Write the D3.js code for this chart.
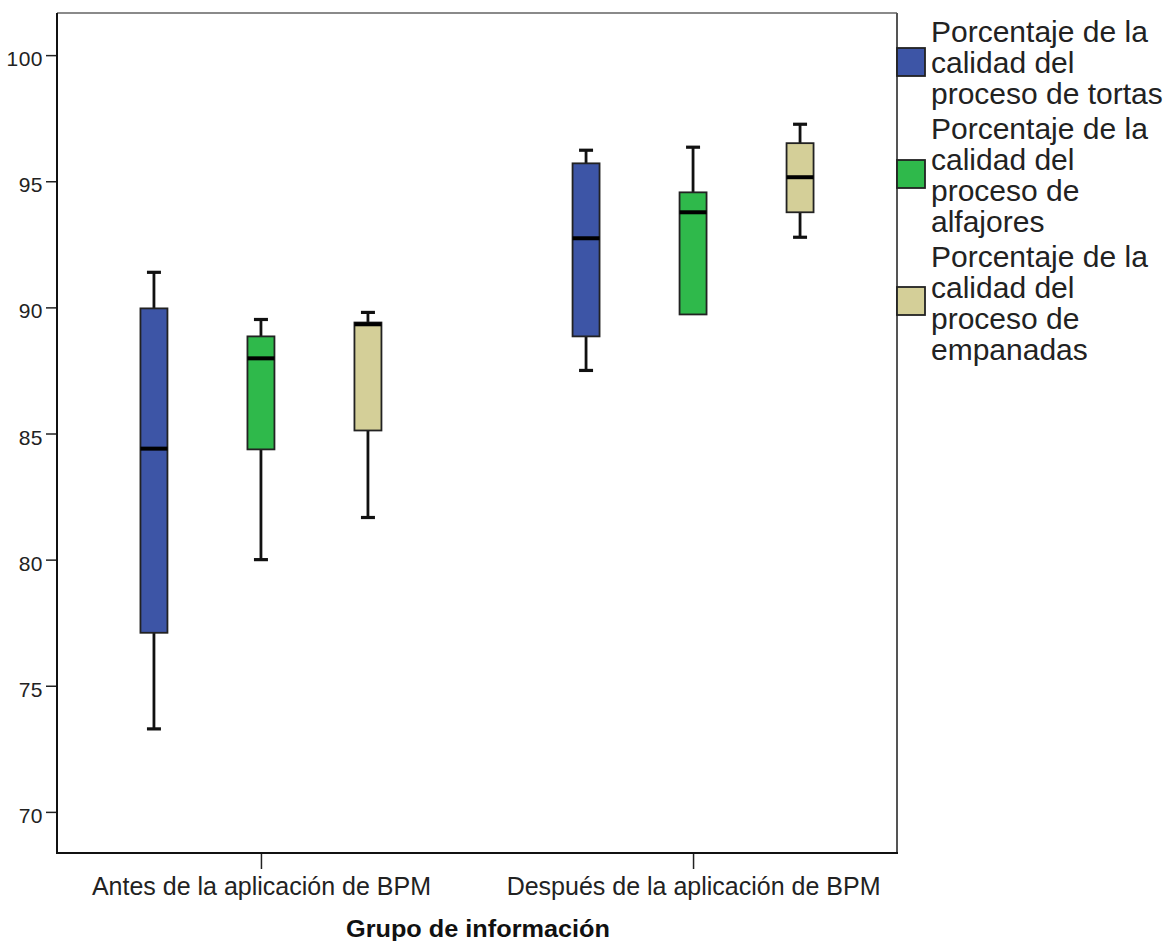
<!DOCTYPE html>
<html>
<head>
<meta charset="utf-8">
<script src="https://cdn.jsdelivr.net/npm/d3@7"></script>
<style>
  html, body { margin: 0; padding: 0; background: #fff; }
  svg { display: block; font-family: "Liberation Sans", Arial, sans-serif; }
  .axis text { fill: #222; }
  .axis line { stroke: #222; stroke-width: 1.5; }
</style>
</head>
<body>
<div id="chart"></div>
<script>
// ── Data ────────────────────────────────────────────────────
const GROUPS = ["Antes de la aplicación de BPM", "Después de la aplicación de BPM"];
const SERIES = ["tortas", "alfajores", "empanadas"];

// [min, q1, median, q3, max] per group
const TORTAS    = [[73.29, 77.10, 84.40, 89.96, 91.39], [87.50, 88.85, 92.74, 95.71, 96.23]];
const ALFAJORES = [[80.00, 84.37, 87.98, 88.85, 89.52], [89.72, 89.72, 93.77, 94.56, 96.35]];
const EMPANADAS = [[81.67, 85.12, 89.33, 89.40, 89.80], [92.78, 93.77, 95.16, 96.51, 97.26]];

const Y_TICKS = [70, 75, 80, 85, 90, 95, 100];
const Y_DOMAIN = [68.37, 101.67];

const LEGEND_LINES = [
  ["Porcentaje de la", "calidad del", "proceso de tortas"],
  ["Porcentaje de la", "calidad del", "proceso de", "alfajores"],
  ["Porcentaje de la", "calidad del", "proceso de", "empanadas"]
];

const X_TITLE = "Grupo de información";

// ── Styles ──────────────────────────────────────────────────
const COLOR = { tortas: "#3d55a6", alfajores: "#2fb94b", empanadas: "#d4cf98" };

// ── Layout ──────────────────────────────────────────────────
const W = 1169, H = 941;
const PLOT = { left: 57, top: 13, right: 897, bottom: 853 };
const BOX_W = 27, CAP_W = 14;

const stats = { tortas: TORTAS, alfajores: ALFAJORES, empanadas: EMPANADAS };

const svg = d3.select("#chart").append("svg")
  .attr("width", W).attr("height", H);

// Scales
const y = d3.scaleLinear().domain(Y_DOMAIN).range([PLOT.bottom, PLOT.top]);
const x = d3.scalePoint().domain(GROUPS).range([PLOT.left, PLOT.right]).padding(0.472);
const xInner = d3.scalePoint().domain(SERIES).range([-107, 107]);

// ── Axes ────────────────────────────────────────────────────
const yAxisG = svg.append("g").attr("class", "axis")
  .attr("transform", `translate(${PLOT.left},0)`)
  .call(d3.axisLeft(y).tickValues(Y_TICKS).tickSize(11).tickPadding(3));
yAxisG.select(".domain").remove();
yAxisG.selectAll("text").attr("font-size", 21).attr("dy", "0.5em")
  .attr("letter-spacing", "0.5");

const xAxisG = svg.append("g").attr("class", "axis")
  .attr("transform", `translate(0,${PLOT.bottom})`)
  .call(d3.axisBottom(x).tickSize(16).tickPadding(8));
xAxisG.select(".domain").remove();
xAxisG.selectAll("text").attr("font-size", 25);

// Frame: left/bottom dark, top/right grey
svg.append("line").attr("x1", PLOT.left).attr("x2", PLOT.right)
  .attr("y1", PLOT.top).attr("y2", PLOT.top)
  .attr("stroke", "#8a8a8a").attr("stroke-width", 2);
svg.append("line").attr("x1", PLOT.right).attr("x2", PLOT.right)
  .attr("y1", PLOT.top).attr("y2", PLOT.bottom)
  .attr("stroke", "#555").attr("stroke-width", 2);
svg.append("line").attr("x1", PLOT.left).attr("x2", PLOT.left)
  .attr("y1", PLOT.top).attr("y2", PLOT.bottom + 1)
  .attr("stroke", "#111").attr("stroke-width", 2);
svg.append("line").attr("x1", PLOT.left - 1).attr("x2", PLOT.right + 1)
  .attr("y1", PLOT.bottom).attr("y2", PLOT.bottom)
  .attr("stroke", "#111").attr("stroke-width", 2);

// Axis title
svg.append("text")
  .attr("x", x(GROUPS[0]) / 2 + x(GROUPS[1]) / 2 + 1).attr("y", 937)
  .attr("text-anchor", "middle")
  .attr("font-size", 24).attr("font-weight", "bold").attr("fill", "#111")
  .attr("textLength", 264).attr("lengthAdjust", "spacingAndGlyphs")
  .text(X_TITLE);

// ── Boxes ───────────────────────────────────────────────────
const boxes = [];
GROUPS.forEach((g, gi) => {
  SERIES.forEach(s => {
    const [mn, q1, md, q3, mx] = stats[s][gi];
    boxes.push({ g, s, mn, q1, md, q3, mx, cx: x(g) + xInner(s) });
  });
});

const boxG = svg.append("g").selectAll("g").data(boxes).join("g");

// whiskers
boxG.append("line")
  .attr("x1", d => d.cx).attr("x2", d => d.cx)
  .attr("y1", d => y(d.q3)).attr("y2", d => y(d.mx))
  .attr("stroke", "#111").attr("stroke-width", 2.8);
boxG.append("line")
  .attr("x1", d => d.cx).attr("x2", d => d.cx)
  .attr("y1", d => y(d.q1)).attr("y2", d => y(d.mn))
  .attr("stroke", "#111").attr("stroke-width", 2.8);
// caps
boxG.filter(d => d.mx > d.q3).append("line")
  .attr("x1", d => d.cx - CAP_W / 2).attr("x2", d => d.cx + CAP_W / 2)
  .attr("y1", d => y(d.mx)).attr("y2", d => y(d.mx))
  .attr("stroke", "#111").attr("stroke-width", 3.2);
boxG.filter(d => d.mn < d.q1).append("line")
  .attr("x1", d => d.cx - CAP_W / 2).attr("x2", d => d.cx + CAP_W / 2)
  .attr("y1", d => y(d.mn)).attr("y2", d => y(d.mn))
  .attr("stroke", "#111").attr("stroke-width", 3.2);
// box
boxG.append("rect")
  .attr("x", d => d.cx - BOX_W / 2).attr("width", BOX_W)
  .attr("y", d => y(d.q3)).attr("height", d => y(d.q1) - y(d.q3))
  .attr("fill", d => COLOR[d.s])
  .attr("stroke", "#222").attr("stroke-width", 1.8);
// median
boxG.append("line")
  .attr("x1", d => d.cx - BOX_W / 2).attr("x2", d => d.cx + BOX_W / 2)
  .attr("y1", d => y(d.md)).attr("y2", d => y(d.md))
  .attr("stroke", "#000").attr("stroke-width", 4);

// ── Legend ──────────────────────────────────────────────────
const LEG_SWATCH_Y = [48, 160, 287];
const LEG_TEXT_Y = [42, 139, 267];
const LEG_LINE_H = 31;

const legG = svg.append("g").selectAll("g").data(SERIES).join("g");
legG.append("rect")
  .attr("x", PLOT.right).attr("y", (d, i) => LEG_SWATCH_Y[i])
  .attr("width", 28).attr("height", 28)
  .attr("fill", d => COLOR[d]).attr("stroke", "#222").attr("stroke-width", 1.8);
legG.each(function(d, i) {
  const t = d3.select(this).append("text")
    .attr("x", 931).attr("y", LEG_TEXT_Y[i])
    .attr("font-size", 30).attr("fill", "#222");
  LEGEND_LINES[i].forEach((line, li) => {
    t.append("tspan").attr("x", 931).attr("y", LEG_TEXT_Y[i] + li * LEG_LINE_H).text(line);
  });
});
</script>
</body>
</html>
